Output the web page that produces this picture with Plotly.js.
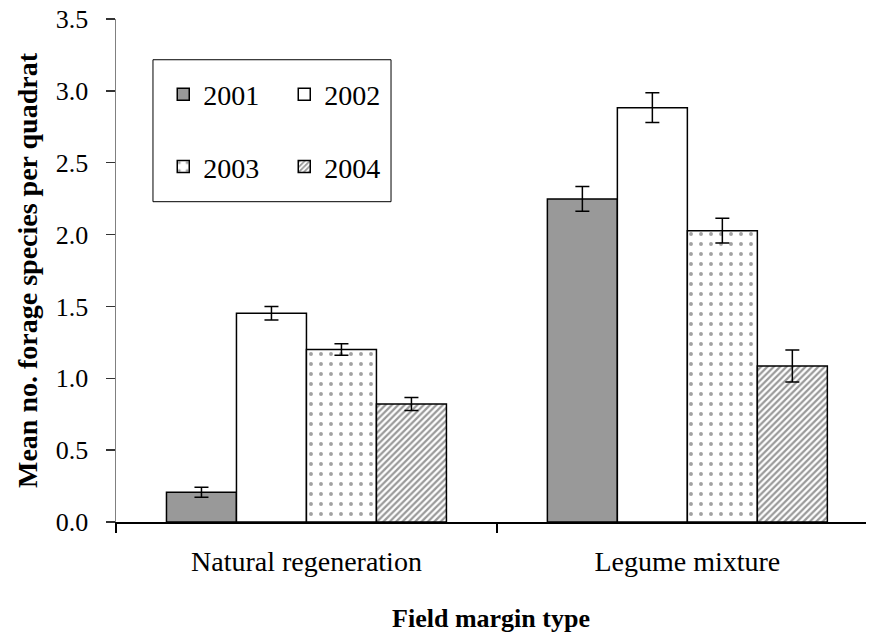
<!DOCTYPE html>
<html>
<head>
<meta charset="utf-8">
<script src="https://cdn.plot.ly/plotly-3.0.1.min.js"></script>
<style>html,body{margin:0;padding:0;background:#fff;}#chart{width:869px;height:639px;}</style>
</head>
<body>
<div id="chart"></div>
<script>
var categories = ["Natural regeneration", "Legume mixture"];
var years = ["2001", "2002", "2003", "2004"];
var values2001 = [0.207, 2.248];
var values2002 = [1.452, 2.883];
var values2003 = [1.200, 2.027];
var values2004 = [0.821, 1.086];
var err2001 = [0.034, 0.086];
var err2002 = [0.047, 0.104];
var err2003 = [0.040, 0.086];
var err2004 = [0.046, 0.111];
var yTicks = [0, 0.5, 1.0, 1.5, 2.0, 2.5, 3.0, 3.5];

var serif = "'Liberation Serif', 'Times New Roman', serif";
var outline = {color: "#000", width: 1.5};
function eb(arr) {
  return {type: "data", array: arr, visible: true, color: "#000", thickness: 1.5, width: 7};
}

var traces = [
  {type: "bar", name: years[0], x: categories, y: values2001, error_y: eb(err2001),
   marker: {color: "#999999", line: outline}, legend: "legend"},
  {type: "bar", name: years[1], x: categories, y: values2002, error_y: eb(err2002),
   marker: {color: "#ffffff", line: outline}, legend: "legend"},
  {type: "bar", name: years[2], x: categories, y: values2003, error_y: eb(err2003),
   marker: {color: "#ffffff", line: outline,
            pattern: {shape: ".", fgcolor: "#444", bgcolor: "#ffffff", size: 10, solidity: 0.12, fillmode: "overlay"}},
   legend: "legend2"},
  {type: "bar", name: years[3], x: categories, y: values2004, error_y: eb(err2004),
   marker: {color: "#ffffff", line: outline,
            pattern: {shape: "/", fgcolor: "#333", bgcolor: "#ffffff", size: 4.5, solidity: 0.5, fillmode: "overlay"}},
   legend: "legend2"}
];

var legendCommon = {
  orientation: "h", xanchor: "left", yanchor: "middle",
  font: {family: serif, size: 28, color: "#000"},
  bgcolor: "rgba(0,0,0,0)", borderwidth: 0,
  entrywidth: 76, entrywidthmode: "pixels", traceorder: "normal"
};

var layout = {
  width: 869, height: 639,
  margin: {l: 116, r: 3, t: 19, b: 117},
  paper_bgcolor: "#fff", plot_bgcolor: "#fff",
  font: {family: serif, color: "#000"},
  barmode: "group", bargap: 0.265, bargroupgap: 0,
  showlegend: true,
  legend: Object.assign({}, legendCommon, {x: 0.063, y: 0.85}),
  legend2: Object.assign({}, legendCommon, {x: 0.063, y: 0.706}),
  xaxis: {
    type: "category", range: [-0.5, 1.469],
    showline: true, linecolor: "#000", linewidth: 1.5,
    ticks: "outside", tickson: "boundaries", ticklen: 9, tickcolor: "#000", tickwidth: 1.5,
    ticklabelstandoff: 14,
    tickfont: {family: serif, size: 28, color: "#000"},
    showgrid: false, zeroline: false, automargin: false,
    title: {text: "<b>Field margin type</b>", font: {family: serif, size: 26, color: "#000"}, standoff: 32}
  },
  yaxis: {
    range: [0, 3.5], tickvals: yTicks, tickformat: ".1f",
    showline: true, linecolor: "#808080", linewidth: 1.5,
    ticks: "outside", ticklen: 9, tickcolor: "#333", tickwidth: 1.5,
    ticklabelstandoff: 12,
    tickfont: {family: serif, size: 26, color: "#000"},
    showgrid: false, zeroline: false, automargin: false,
    title: {text: "<b>Mean no. forage species per quadrat</b>", font: {family: serif, size: 28, color: "#000"}, standoff: 10}
  },
  shapes: [
    {type: "rect", xref: "paper", yref: "paper", x0: 0.0493, x1: 0.3667, y0: 0.6368, y1: 0.919,
     line: {color: "#000", width: 1}, fillcolor: "rgba(0,0,0,0)", layer: "below"}
  ]
};

Plotly.newPlot("chart", traces, layout, {displayModeBar: false, staticPlot: true});
</script>
</body>
</html>
